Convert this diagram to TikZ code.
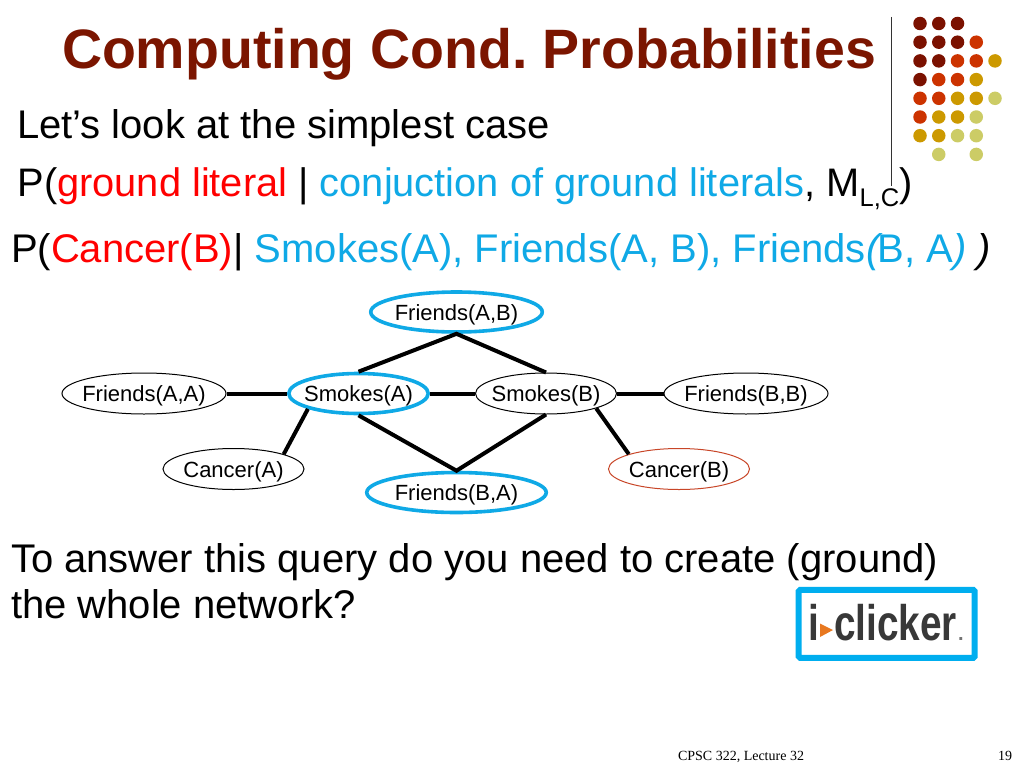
\documentclass[tikz,border=0pt]{standalone}
\usepackage{fontspec}
\setmainfont{Liberation Sans}
\newfontfamily\footfont{Liberation Serif}
\usetikzlibrary{shapes.geometric}
\frenchspacing
\definecolor{titlered}{HTML}{7B1500}
\definecolor{dkred}{HTML}{7B1100}
\definecolor{orred}{HTML}{CC3300}
\definecolor{gold}{HTML}{CC9900}
\definecolor{khaki}{HTML}{CCCC66}
\definecolor{cyanb}{HTML}{0FA9E6}
\definecolor{logoblue}{HTML}{00AEEF}
\definecolor{pureRed}{HTML}{FF0000}
\definecolor{logoOrange}{HTML}{E87820}
\newcommand{\fs}[1]{\fontsize{#1}{#1}\selectfont}
\newcommand{\lab}[1]{\raisebox{-8pt}[0pt][0pt]{\makebox[0pt]{#1}}}
\tikzset{
  txt/.style={anchor=base west,inner sep=0pt,outer sep=0pt},
  body/.style={txt,font=\fs{40}},
  ell/.style={ellipse,draw=black,line width=1pt,inner sep=0pt,font=\fs{22},fill=none},
  hot/.style={ell,draw=cyanb,line width=3.6pt},
  link/.style={line width=4pt,black,line join=miter},
  dot/.style={circle,inner sep=0pt,minimum size=13.5pt,draw=none},
}
\begin{document}
\begin{tikzpicture}[x=1pt,y=-1pt]
\useasboundingbox (0,0) rectangle (1024,768);
\fill[white] (0,0) rectangle (1024,768);
% title and rule
\node[txt,font=\fs{55.5}\bfseries,text=titlered] (title) at (62,68) {Computing Cond. Probabilities};
\coordinate (ruleTop) at (891.5,17);
\coordinate (ruleEnd) at (891.5,186);
\draw[line width=1pt,black!80] (ruleTop) -- (ruleEnd);
% dots
\foreach \cx/\cy/\cc in {
 1/1/dkred,2/1/dkred,3/1/dkred,
 1/2/dkred,2/2/dkred,3/2/dkred,4/2/orred,
 1/3/dkred,2/3/dkred,3/3/orred,4/3/orred,5/3/gold,
 1/4/dkred,2/4/orred,3/4/orred,4/4/gold,
 1/5/orred,2/5/orred,3/5/gold,4/5/gold,5/5/khaki,
 1/6/orred,2/6/gold,3/6/gold,4/6/khaki,
 1/7/gold,2/7/gold,3/7/khaki,4/7/khaki,
 2/8/khaki,4/8/khaki}{
  \node[dot,fill=\cc] (d\cx-\cy) at ({920+(\cx-1)*18.75},{23.5+(\cy-1)*18.7}) {};
}
% body text
\node[body] (l1) at (17,138) {Let’s look at the simplest case};
\node[body,font=\fs{39.8}] (l2) at (17.5,196) {P(\textcolor{pureRed}{ground literal} | \textcolor{cyanb}{conjuction of ground literals}, M\raisebox{-10pt}{\fs{25.5}L,C})};
\node[body] (l3) at (11,262) {P(\textcolor{pureRed}{Cancer(B)}| \textcolor{cyanb}{Smokes(A), Friends(A, B), Friends\textit{(}\kern-5pt B, A\textit{) }}\textit{)}};
\node[body] (l4) at (11,572) {To answer this query do you need to create (ground)};
\node[body] (l5) at (11,618) {the whole network?};
% network
\node[ell,minimum width=164pt,minimum height=41pt] (faa) at (144,393.5) {\lab{Friends(A,A)}};
\node[hot,minimum width=139.5pt,minimum height=40pt] (sa) at (358.5,393.5) {\lab{Smokes(A)}};
\node[ell,minimum width=141pt,minimum height=41pt] (sb) at (546,393.5) {\lab{Smokes(B)}};
\node[ell,minimum width=164pt,minimum height=41pt] (fbb) at (746,393.5) {\lab{Friends(B,B)}};
\node[hot,minimum width=171.5pt,minimum height=40pt] (fab) at (456.5,312) {\lab{Friends(A,B)}};
\node[hot,minimum width=179.5pt,minimum height=40pt] (fba) at (456.5,492.5) {\lab{Friends(B,A)}};
\node[ell,minimum width=141pt,minimum height=41pt] (ca) at (233.5,469) {\lab{Cancer(A)}};
\node[ell,draw={rgb,255:red,200;green,70;blue,40},minimum width=141pt,minimum height=41pt] (cb) at (679,469) {\lab{Cancer(B)}};
\draw[link] (faa) -- (sa);
\draw[link] (sa) -- (sb);
\draw[link] (sb) -- (fbb);
\draw[link] (sa.north) -- (fab.south) -- (sb.north);
\draw[link] (sa.south) -- (fba.north) -- (sb.south);
\draw[link] (sa.south west) -- (ca.north east);
\draw[link] (sb.south east) -- (cb.north west);
% logo
\node[draw=logoblue,line width=6pt,rounded corners=1.5pt,minimum width=176pt,minimum height=68pt,inner sep=0pt] (logo) at (886.7,623.8) {};
\node[txt,font=\fs{50}\bfseries,text=black!78,xscale=.775] (li) at (808.5,640) {i};
\node[txt,font=\fs{50}\bfseries,text=black!78,xscale=.775] (lc) at (834,640) {clicker};
\node[txt,font=\fs{20}\bfseries,text=black!55] (ld) at (958,640) {.};
\fill[logoOrange] (820,623.5) -- (833,630) -- (820,637) -- cycle;
% footer
\node[txt,font=\footfont\fs{14}] (foot) at (678,760) {CPSC 322, Lecture 32};
\node[txt,font=\footfont\fs{14}] (page) at (998,760) {19};
\end{tikzpicture}
\end{document}
